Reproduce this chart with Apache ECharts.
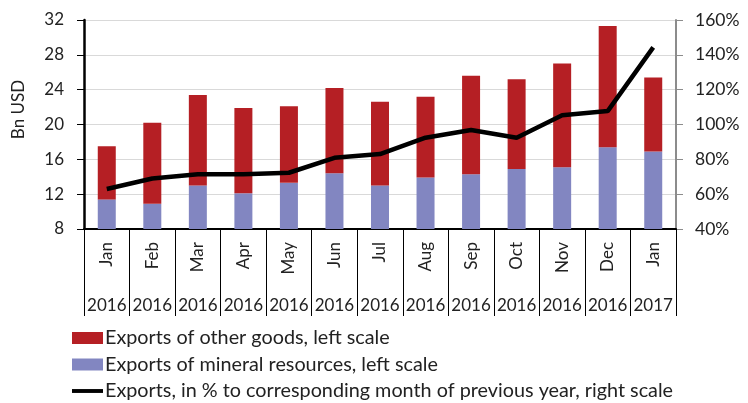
<!DOCTYPE html>
<html>
<head>
<meta charset="utf-8">
<script src="https://cdn.jsdelivr.net/npm/echarts@6/dist/echarts.min.js"></script>
<style>html,body{margin:0;padding:0;background:#fff;}#c{width:748px;height:403px;}</style>
</head>
<body>
<div id="c"></div>
<script>
var months = ['Jan','Feb','Mar','Apr','May','Jun','Jul','Aug','Sep','Oct','Nov','Dec','Jan'];
var years = ['2016','2016','2016','2016','2016','2016','2016','2016','2016','2016','2016','2016','2017'];
var mineral = [11.4,10.9,13.0,12.1,13.3,14.4,13.0,13.9,14.3,14.9,15.1,17.4,16.9];
var otherGoods = [6.1,9.3,10.4,9.8,8.8,9.8,9.6,9.3,11.3,10.3,11.9,13.9,8.5];
var yoy = [63,69,71.5,71.5,72.3,80.9,83,92.4,96.8,92.4,105.3,107.7,144.3];
var leftTicks = {min:8, max:32, interval:4};
var rightTicks = {min:40, max:160, interval:20};

var FONT = 'Lato';
var chart = echarts.init(document.getElementById('c'), null, {renderer:'canvas'});
chart.setOption({
  animation:false,
  textStyle:{fontFamily:FONT},
  grid:{left:84, right:72, top:20, bottom:174, containLabel:false},
  legend:{
    orient:'vertical', left:72, top:328, padding:0, itemGap:6.5, itemWidth:31, itemHeight:12,
    height:90,
    textStyle:{fontFamily:FONT, fontSize:19.8, color:'#222', padding:[0,0,0,-3]},
    data:[
      {name:'Exports of other goods, left scale', icon:'rect'},
      {name:'Exports of mineral resources, left scale', icon:'rect'},
      {name:'Exports, in % to corresponding month of previous year, right scale', icon:'path://M0,0 L32,0 L32,4 L0,4 Z'}
    ]
  },
  xAxis:[{
    type:'category', data:months, position:'bottom',
    axisLine:{show:true, lineStyle:{color:'#000', width:2}},
    axisTick:{show:true, length:87, lineStyle:{color:'#000', width:1}},
    axisLabel:{rotate:90, interval:0, margin:13, fontSize:17, color:'#222', fontFamily:FONT}
  },{
    type:'category', data:years, position:'bottom', offset:62,
    axisLine:{show:false}, axisTick:{show:false},
    axisLabel:{interval:0, margin:6, fontSize:17, color:'#222', fontFamily:FONT}
  }],
  yAxis:[{
    type:'value', min:leftTicks.min, max:leftTicks.max, interval:leftTicks.interval,
    name:'Bn USD', nameLocation:'middle', nameRotate:90, nameGap:57,
    nameTextStyle:{fontSize:17, color:'#222', fontFamily:FONT, padding:[0,0,0,30]},
    axisLine:{show:true, lineStyle:{color:'#000', width:2.5}},
    axisTick:{show:true, length:7, lineStyle:{color:'#000', width:1}},
    axisLabel:{margin:20, fontSize:17, color:'#222', fontFamily:FONT},
    splitLine:{show:true, lineStyle:{color:'#d9d9d9', width:1}}
  },{
    type:'value', position:'right', min:rightTicks.min, max:rightTicks.max, interval:rightTicks.interval,
    axisLine:{show:true, lineStyle:{color:'#8c8c8c', width:2}},
    axisTick:{show:true, length:7, lineStyle:{color:'#8c8c8c', width:1}},
    axisLabel:{margin:19, fontSize:17.5, color:'#222', fontFamily:FONT, formatter:'{value}%'},
    splitLine:{show:false}
  }],
  series:[{
    name:'Exports of mineral resources, left scale', type:'bar', stack:'exp',
    data:mineral, barWidth:18, itemStyle:{color:'#8286c1'}
  },{
    name:'Exports of other goods, left scale', type:'bar', stack:'exp',
    data:otherGoods, barWidth:18, itemStyle:{color:'#b51f24'}
  },{
    name:'Exports, in % to corresponding month of previous year, right scale', type:'line', yAxisIndex:1,
    data:yoy, symbol:'none', lineStyle:{color:'#000', width:4.5}, itemStyle:{color:'#000'}, z:5
  }]
});
</script>
</body>
</html>
